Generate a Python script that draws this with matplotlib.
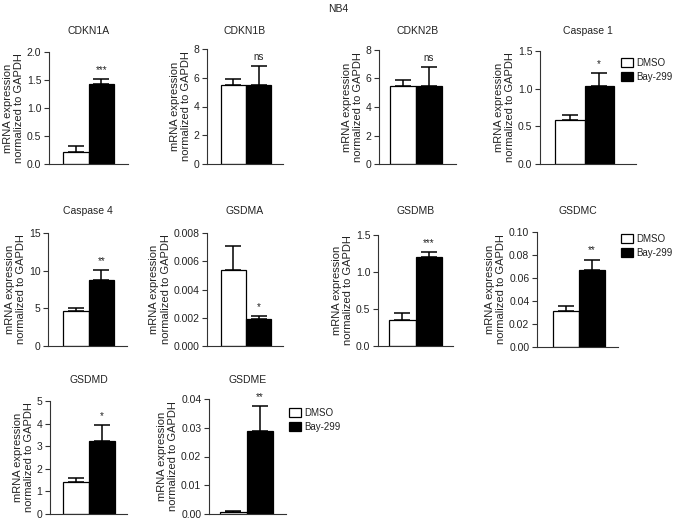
import numpy as np
import matplotlib
matplotlib.use('Agg')
import matplotlib.pyplot as plt
from matplotlib.patches import Patch

plt.rcParams['font.family'] = ['Liberation Sans', 'DejaVu Sans']
plt.rcParams['text.color'] = '#222222'
plt.rcParams['axes.labelcolor'] = '#222222'

# data (mean, upper error)
genes = ['CDKN1A', 'CDKN1B', 'CDKN2B', 'Caspase 1', 'Caspase 4',
         'GSDMA', 'GSDMB', 'GSDMC', 'GSDMD', 'GSDME']
dmso_mean = [0.22, 5.5, 5.5, 0.58, 4.6, 0.0054, 0.35, 0.031, 1.4, 0.0008]
dmso_err = [0.10, 0.42, 0.42, 0.07, 0.5, 0.0017, 0.10, 0.005, 0.2, 0.0002]
bay_mean = [1.42, 5.5, 5.5, 1.04, 8.7, 0.0019, 1.20, 0.067, 3.25, 0.029]
bay_err = [0.10, 1.3, 1.3, 0.17, 1.4, 0.0002, 0.07, 0.009, 0.67, 0.0085]
sig = ['***', 'ns', 'ns', '*', '**', '*', '***', '**', '*', '**']
y_max = [2.0, 8, 8, 1.5, 15, 0.008, 1.5, 0.10, 5, 0.04]
y_step = [0.5, 2, 2, 0.5, 5, 0.002, 0.5, 0.02, 1, 0.01]
y_fmt = ['%.1f', '%d', '%d', '%.1f', '%d', '%.3f', '%.1f', '%.2f', '%d', '%.2f']
groups = ['DMSO', 'Bay-299']

W, H = 675, 522
# panel layout in pixels: left, right, top, bottom, bar left edge, bar right edge
layout = [
    (49, 128, 52, 164, 63, 114),
    (207, 283, 49, 164, 221, 271),
    (379, 456, 50, 164, 390, 442),
    (540, 636, 51, 164, 555, 614),
    (48, 127, 233, 346, 63, 114),
    (207, 283, 233, 346, 221, 271),
    (378, 453, 235, 346, 389, 442),
    (537, 618, 232, 347, 553, 605),
    (50, 127, 401, 514, 63, 115),
    (209, 286, 399, 514, 220, 273),
]
title_y = [31, 31, 31, 31, 211, 211, 211, 211, 380, 380]
legend_pos = {3: (621, 58), 7: (621, 234), 9: (289, 408)}

fig = plt.figure(figsize=(W / 100, H / 100), dpi=100)
fig.text(338 / W, 1 - 9 / H, 'NB4', ha='center', va='center', fontsize=7.5)

for i, g in enumerate(genes):
    l, r, t, b, bl, br = layout[i]
    ax = fig.add_axes([l / W, 1 - b / H, (r - l) / W, (b - t) / H])
    unit = (br - bl) / 2
    ax.set_xlim(-0.5 - (bl - l) / unit, 1.5 + (r - br) / unit)
    ax.set_ylim(0, y_max[i])

    means = [dmso_mean[i], bay_mean[i]]
    errs = [dmso_err[i], bay_err[i]]
    ax.bar([0, 1], means, width=1.0, color=['white', 'black'],
           edgecolor='black', linewidth=0.9, zorder=2)
    ax.errorbar([0, 1], means, yerr=[[0, 0], errs], fmt='none', ecolor='black',
                elinewidth=1.1, capsize=6, capthick=1.1, zorder=1)
    ax.annotate(sig[i], (1, bay_mean[i] + bay_err[i]), xytext=(0, 3),
                textcoords='offset points', ha='center', va='bottom', fontsize=7)

    ticks = np.arange(0, y_max[i] + y_step[i] / 2, y_step[i])
    ax.set_yticks(ticks)
    ax.set_yticklabels([y_fmt[i] % v for v in ticks])
    ax.set_xticks([])
    for s in ['top', 'right']:
        ax.spines[s].set_visible(False)
    for s in ['left', 'bottom']:
        ax.spines[s].set_color('#333333')
        ax.spines[s].set_linewidth(0.8)
    ax.tick_params(axis='y', length=3.5, width=0.8, color='#333333',
                   labelsize=7.5, pad=2, labelcolor='#222222')
    ax.set_ylabel('mRNA expression\nnormalized to GAPDH', fontsize=8,
                  linespacing=1.15, labelpad=2)
    fig.text((l + r) / 2 / W, 1 - title_y[i] / H, g, ha='center', va='center',
             fontsize=7.5)

    if i in legend_pos:
        px, py = legend_pos[i]
        handles = [Patch(facecolor='white', edgecolor='black', linewidth=0.9),
                   Patch(facecolor='black', edgecolor='black', linewidth=0.9)]
        fig.legend(handles, groups, loc='upper left',
                   bbox_to_anchor=(px / W, 1 - py / H), frameon=False,
                   fontsize=7, handlelength=1.2, handleheight=1.0,
                   handletextpad=0.35, labelspacing=0.4, borderpad=0,
                   borderaxespad=0)

fig.savefig('out.png', dpi=100)
